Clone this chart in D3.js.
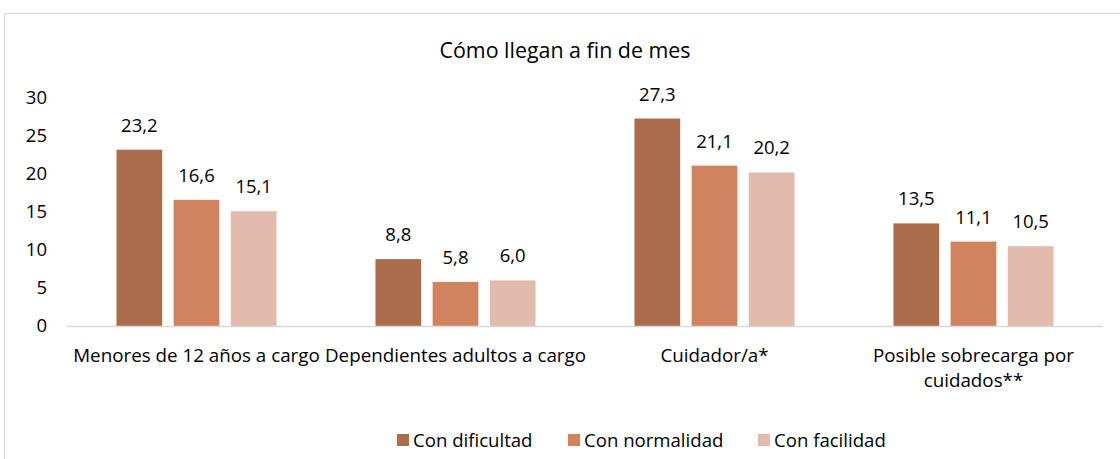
<!DOCTYPE html>
<html>
<head>
<meta charset="utf-8">
<script src="https://cdn.jsdelivr.net/npm/d3@7"></script>
<style>
  body { margin: 0; background: #fff; }
  text { font-family: "Open Sans", sans-serif; fill: #000; }
</style>
</head>
<body>
<div id="chart"></div>
<script>
// Chart data
const categories = ["Menores de 12 años a cargo", "Dependientes adultos a cargo", "Cuidador/a*", "Posible sobrecarga por cuidados**"];
const seriesNames = ["Con dificultad", "Con normalidad", "Con facilidad"];
const conDificultad = [23.2, 8.8, 27.3, 13.5];
const conNormalidad = [16.6, 5.8, 21.1, 11.1];
const conFacilidad = [15.1, 6.0, 20.2, 10.5];
const yTicks = [0, 5, 10, 15, 20, 25, 30];
const colors = ["#ab6c4b", "#d0835c", "#e2bbad"];

const seriesValues = [conDificultad, conNormalidad, conFacilidad];

const width = 1120, height = 459;
const margin = { top: 98, right: 17, bottom: 133, left: 67 };

const svg = d3.select("#chart")
    .append("svg")
    .attr("width", width)
    .attr("height", height);

// outer frame (only top and left edges are visible in the picture)
svg.append("path")
    .attr("d", "M4.5,459 L4.5,13.5 L1120,13.5")
    .attr("fill", "none")
    .attr("stroke", "#d9d9d9")
    .attr("stroke-width", 1);

// title
svg.append("text")
    .attr("x", 565)
    .attr("y", 58)
    .attr("text-anchor", "middle")
    .attr("font-size", "21.4px")
    .text("Cómo llegan a fin de mes");

const x0 = d3.scaleBand()
    .domain(categories)
    .range([margin.left, width - margin.right])
    .paddingInner(0.382)
    .paddingOuter(0.191);

const x1 = d3.scaleBand()
    .domain(seriesNames)
    .range([0, x0.bandwidth()])
    .paddingInner(0.2);

const y = d3.scaleLinear()
    .domain([0, 30])
    .range([height - margin.bottom, margin.top]);

// y axis labels
const yAxis = d3.axisLeft(y).tickValues(yTicks).tickSize(0).tickPadding(0);
svg.append("g")
    .attr("transform", `translate(47,0)`)
    .call(yAxis)
    .call(g => g.select(".domain").remove())
    .selectAll("text")
    .attr("font-size", "18.5px")
    .attr("font-family", "'Open Sans', sans-serif")
    .attr("fill", "#000");

// bars
const groups = svg.selectAll(".group")
    .data(categories)
    .enter()
    .append("g")
    .attr("class", "group")
    .attr("transform", d => `translate(${x0(d)},0)`);

seriesNames.forEach(function(name, si) {
    groups.append("rect")
        .attr("x", x1(name))
        .attr("y", (d, i) => y(seriesValues[si][i]))
        .attr("width", x1.bandwidth())
        .attr("height", (d, i) => y(0) - y(seriesValues[si][i]))
        .attr("fill", colors[si]);

    groups.append("text")
        .attr("x", x1(name) + x1.bandwidth() / 2)
        .attr("y", (d, i) => y(seriesValues[si][i]) - 18)
        .attr("text-anchor", "middle")
        .attr("font-size", "18.5px")
        .text((d, i) => seriesValues[si][i].toFixed(1).replace(".", ","));
});

// x axis line
svg.append("line")
    .attr("x1", margin.left)
    .attr("x2", width - margin.right)
    .attr("y1", y(0) + 0.5)
    .attr("y2", y(0) + 0.5)
    .attr("stroke", "#d9d9d9")
    .attr("stroke-width", 1.5);

// category labels, wrapped to the band step
const maxLabelWidth = 270;
svg.selectAll(".cat")
    .data(categories)
    .enter()
    .append("text")
    .attr("class", "cat")
    .attr("x", d => x0(d) + x0.bandwidth() / 2)
    .attr("y", 362)
    .attr("text-anchor", "middle")
    .attr("font-size", "18.8px")
    .each(function(d) {
        const t = d3.select(this);
        const words = d.split(" ");
        let line = [];
        let tspan = t.append("tspan").attr("x", t.attr("x")).attr("dy", 0);
        words.forEach(function(w) {
            line.push(w);
            tspan.text(line.join(" "));
            if (tspan.node().getComputedTextLength() > maxLabelWidth && line.length > 1) {
                line.pop();
                tspan.text(line.join(" "));
                line = [w];
                tspan = t.append("tspan").attr("x", t.attr("x")).attr("dy", 25).text(w);
            }
        });
    });

// legend
const legendX = [397, 568, 758];
const legend = svg.selectAll(".legend")
    .data(seriesNames)
    .enter()
    .append("g")
    .attr("class", "legend")
    .attr("transform", (d, i) => `translate(${legendX[i]},434)`);

legend.append("rect")
    .attr("width", 12)
    .attr("height", 12)
    .attr("fill", (d, i) => colors[i]);

legend.append("text")
    .attr("x", 16)
    .attr("y", 12.5)
    .attr("font-size", "18.6px")
    .text(d => d);
</script>
</body>
</html>
